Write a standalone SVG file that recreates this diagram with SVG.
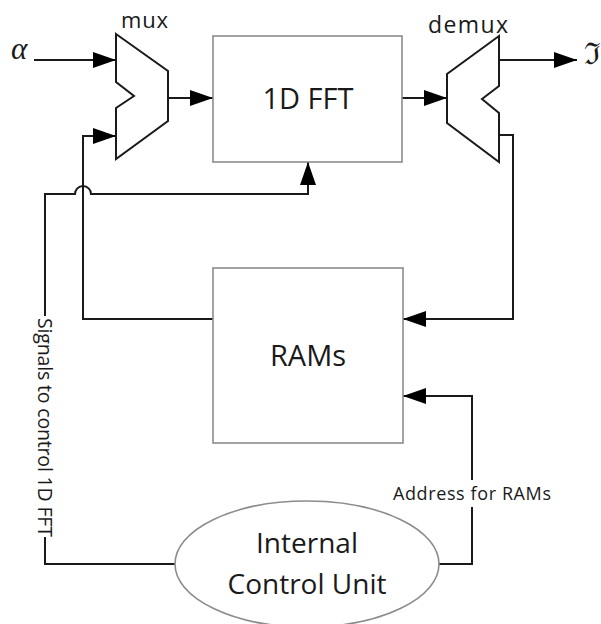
<svg xmlns="http://www.w3.org/2000/svg" width="601" height="624" viewBox="0 0 601 624">
  <style>
    .box { fill: #ffffff; stroke: #8c8c8c; stroke-width: 1.6; }
    .gate { fill: #ffffff; stroke: #1a1a1a; stroke-width: 2; stroke-linejoin: miter; }
    .wire { fill: none; stroke: #1a1a1a; stroke-width: 2; }
    .lbl { font-family: "Open Sans", "Noto Sans", "Liberation Sans", sans-serif; fill: #1a1a1a; }
    .big { font-size: 29px; text-anchor: middle; }
    .sym { font-family: "Liberation Serif", "DejaVu Serif", serif; fill: #1a1a1a; }
  </style>
  <defs>
    <marker id="arrow" markerUnits="userSpaceOnUse" markerWidth="24" markerHeight="18" refX="23" refY="8" orient="auto">
      <path d="M0,0 L23,8 L0,16 Z" fill="#000000"/>
    </marker>
  </defs>

  <rect width="601" height="624" fill="#ffffff"/>

  <!-- signal wiring -->
  <g id="connectors">
    <path class="wire" d="M34,60 H116" marker-end="url(#arrow)"/>
    <path class="wire" d="M168,98 H213" marker-end="url(#arrow)"/>
    <path class="wire" d="M402,98 H447" marker-end="url(#arrow)"/>
    <path class="wire" d="M499,60 H577" marker-end="url(#arrow)"/>
    <path class="wire" d="M499,135 H513 V319 H403" marker-end="url(#arrow)"/>
    <path class="wire" d="M213,319 H83 V136 H116" marker-end="url(#arrow)"/>
    <path class="wire" d="M45,316 V194 H75 A8,8 0 0 1 91,194 H308 V162" marker-end="url(#arrow)"/>
    <path class="wire" d="M45,537 V564 H175"/>
    <path class="wire" d="M439,564 H472 V507"/>
    <path class="wire" d="M472,480 V396 H403" marker-end="url(#arrow)"/>
  </g>

  <g id="mux">
    <path class="gate" d="M116,34 L168,71 L168,121 L116,159 L116,108 L134,96 L116,82 Z"/>
    <text class="lbl" x="121" y="28" font-size="22" textLength="47">mux</text>
  </g>

  <g id="fft">
    <rect class="box" x="213" y="36" width="189" height="126"/>
    <text class="lbl big" x="308" y="109">1D FFT</text>
  </g>

  <g id="demux">
    <path class="gate" d="M499,36 L447,74 L447,123 L499,162 L499,113 L482,99 L499,86 Z"/>
    <text class="lbl" x="428" y="33" font-size="23" textLength="80">demux</text>
  </g>

  <g id="rams">
    <rect class="box" x="213" y="268" width="190" height="175"/>
    <text class="lbl big" x="308" y="366">RAMs</text>
  </g>

  <g id="control">
    <ellipse class="box" cx="307" cy="564" rx="132" ry="63"/>
    <text class="lbl" x="307" y="553" font-size="28" text-anchor="middle">Internal</text>
    <text class="lbl" x="307" y="594" font-size="28" text-anchor="middle">Control Unit</text>
  </g>

  <!-- wire labels and port symbols -->
  <g id="labels">
    <text class="sym" x="11" y="59" font-size="31" font-style="italic">α</text>
    <text class="sym" x="584" y="64" font-size="30" font-family="DejaVu Serif, serif">ℑ</text>
    <text class="lbl" x="393" y="500" font-size="18" textLength="158">Address for RAMs</text>
    <text class="lbl" transform="translate(45,318) rotate(90)" x="0" y="7" font-size="19.5" textLength="219">Signals to control 1D FFT</text>
  </g>
</svg>
